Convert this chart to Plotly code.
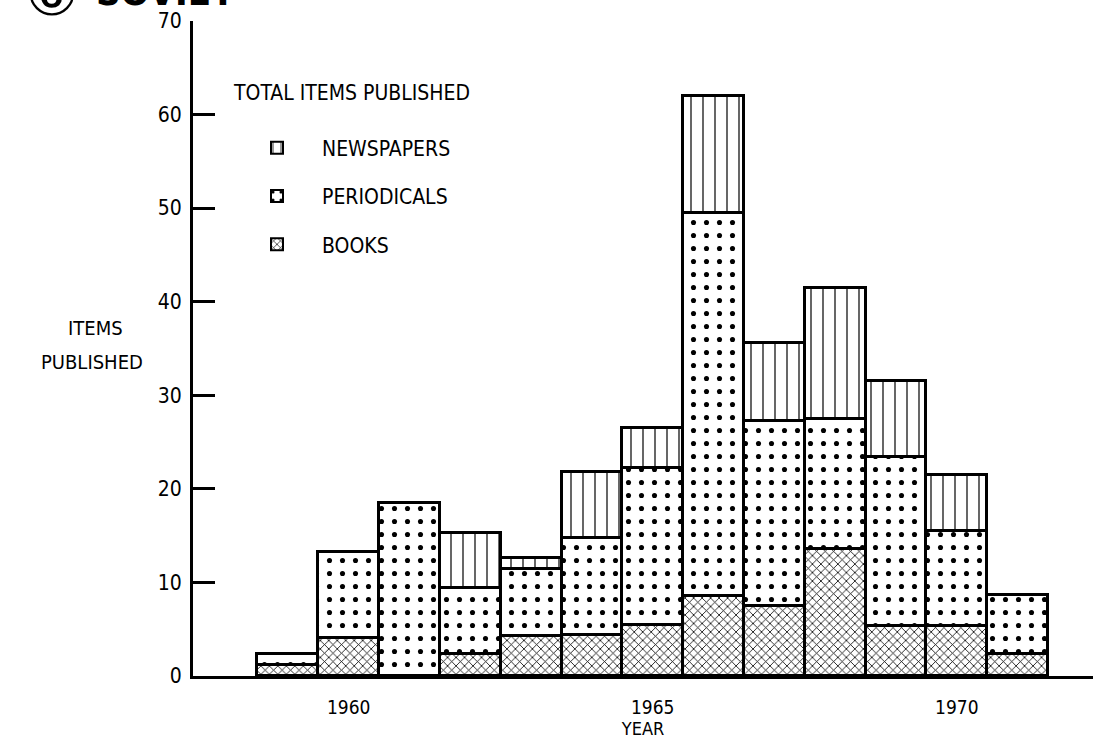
import plotly.graph_objects as go

years = [1959, 1960, 1961, 1962, 1963, 1964, 1965, 1966, 1967, 1968, 1969, 1970, 1971]
books = [1.2, 4.1, 0.0, 2.3, 4.3, 4.4, 5.5, 8.5, 7.5, 13.6, 5.3, 5.3, 2.4]
periodicals = [1.2, 9.2, 18.5, 7.1, 7.1, 10.4, 16.7, 41.0, 19.8, 13.9, 18.1, 10.2, 6.3]
newspapers = [0.0, 0.0, 0.0, 5.9, 1.2, 7.0, 4.3, 12.5, 8.3, 14.0, 8.1, 6.0, 0.0]

y_ticks = [0, 10, 20, 30, 40, 50, 60, 70]
x_ticks = [1960, 1965, 1970]

FONT = "DejaVu Sans Condensed, DejaVu Sans, sans-serif"

fig = go.Figure()

def add(name, vals, shape, size, solidity, rank):
    fig.add_trace(go.Bar(
        x=years, y=vals, name=name, width=1.0,
        legendgroup=name, legendrank=rank,
        marker=dict(
            color="white",
            line=dict(color="black", width=2.8),
            pattern=dict(shape=shape, size=size, solidity=solidity,
                         fgcolor="black", bgcolor="white", fgopacity=1,
                         fillmode="overlay"),
        ),
        hoverinfo="skip",
    ))

add("BOOKS", books, "x", 6, 0.25, 3)
add("PERIODICALS", periodicals, ".", 13, 0.12, 2)
add("NEWSPAPERS", newspapers, "|", 12, 0.1, 1)

fig.update_layout(
    width=1093, height=743,
    margin=dict(l=193, r=0, t=21, b=67),
    paper_bgcolor="white", plot_bgcolor="white",
    barmode="stack", bargap=0,
    font=dict(family=FONT, color="black", size=16),
    showlegend=True,
    legend=dict(
        title=dict(text="TOTAL ITEMS PUBLISHED<br> ", font=dict(size=21, family=FONT), side="top"),
        x=(232 - 193) / 900, y=(676 - 73) / 655, xanchor="left", yanchor="top",
        traceorder="grouped", tracegroupgap=18, itemwidth=80,
        font=dict(size=21, family=FONT),
        bgcolor="rgba(0,0,0,0)", itemsizing="constant",
    ),
    xaxis=dict(
        range=[1957.44, 1972.24],
        tickvals=x_ticks, ticktext=[str(v) for v in x_ticks],
        ticks="", ticklabelstandoff=12,
        showline=True, linecolor="black", linewidth=3,
        showgrid=False, zeroline=False,
        tickfont=dict(size=19, family=FONT),
        title=dict(text="YEAR", font=dict(size=18, family=FONT), standoff=3),
    ),
    yaxis=dict(
        range=[0, 70],
        tickvals=y_ticks,
        ticks="inside", ticklen=22, tickwidth=2.5, tickcolor="black",
        showline=True, linecolor="black", linewidth=3,
        showgrid=False, zeroline=False,
        tickfont=dict(size=21, family=FONT),
        ticklabelstandoff=4,
    ),
    annotations=[
        dict(text="ITEMS", xref="paper", yref="paper",
             x=(95 - 193) / 900, y=(676 - 328) / 655, xanchor="center", yanchor="middle",
             showarrow=False, font=dict(size=20, family=FONT)),
        dict(text="PUBLISHED", xref="paper", yref="paper",
             x=(92 - 193) / 900, y=(676 - 362) / 655, xanchor="center", yanchor="middle",
             showarrow=False, font=dict(size=20, family=FONT)),
        dict(text="\u2465", xref="paper", yref="paper",
             x=(52 - 193) / 900, y=1 + (21 + 6) / 655, xanchor="center", yanchor="middle",
             showarrow=False, font=dict(size=60, family="DejaVu Sans")),
        dict(text="<b>SOVIET</b>", xref="paper", yref="paper",
             x=(94 - 193) / 900, y=1 + (21 + 8) / 655, xanchor="left", yanchor="middle",
             showarrow=False, font=dict(size=38, family=FONT)),
    ],
)

fig.write_html("out.html", config={"displayModeBar": False})

with open("out.html", "r", encoding="utf-8") as f:
    html = f.read()
html = html.replace("<head>", "<head><style>html,body{margin:0;padding:0;}</style>", 1)
with open("out.html", "w", encoding="utf-8") as f:
    f.write(html)
